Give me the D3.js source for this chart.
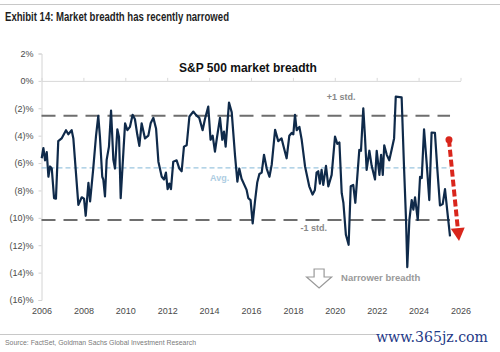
<!DOCTYPE html>
<html>
<head>
<meta charset="utf-8">
<script src="https://cdn.jsdelivr.net/npm/d3@7"></script>
<style>
  body { margin: 0; background: #fff; }
  svg { display: block; }
</style>
</head>
<body>
<div id="chart"></div>
<script>
// data (decimal year, breadth %)
var years = [2006.01, 2006.09, 2006.17, 2006.25, 2006.33, 2006.41, 2006.49, 2006.60, 2006.69, 2006.80,
  2006.96, 2007.17, 2007.28, 2007.44, 2007.52, 2007.76, 2007.92, 2008.03, 2008.11, 2008.24,
  2008.32, 2008.47, 2008.60, 2008.71, 2008.79, 2008.90, 2008.95, 2009.03, 2009.11, 2009.22,
  2009.32, 2009.43, 2009.51, 2009.62, 2009.70, 2009.78, 2009.91, 2009.99, 2010.10, 2010.22,
  2010.35, 2010.46, 2010.57, 2010.67, 2010.78, 2010.94, 2011.10, 2011.21, 2011.34, 2011.47,
  2011.58, 2011.74, 2011.85, 2011.94, 2012.02, 2012.10, 2012.18, 2012.29, 2012.45, 2012.58,
  2012.69, 2012.80, 2012.93, 2013.06, 2013.25, 2013.37, 2013.53, 2013.69, 2013.80, 2013.96,
  2014.07, 2014.17, 2014.28, 2014.36, 2014.52, 2014.63, 2014.71, 2014.79, 2014.95, 2015.08,
  2015.24, 2015.35, 2015.44, 2015.55, 2015.79, 2015.87, 2015.98, 2016.08, 2016.19, 2016.30,
  2016.40, 2016.51, 2016.62, 2016.75, 2016.88, 2016.99, 2017.15, 2017.30, 2017.46, 2017.54,
  2017.70, 2017.83, 2017.94, 2018.02, 2018.10, 2018.18, 2018.31, 2018.42, 2018.58, 2018.78,
  2018.94, 2019.05, 2019.13, 2019.21, 2019.29, 2019.37, 2019.45, 2019.58, 2019.69, 2019.85,
  2020.01, 2020.12, 2020.22, 2020.33, 2020.41, 2020.53, 2020.66, 2020.76, 2020.88, 2020.98,
  2021.08, 2021.17, 2021.25, 2021.36, 2021.44, 2021.52, 2021.65, 2021.76, 2021.92, 2022.00,
  2022.13, 2022.21, 2022.29, 2022.36, 2022.48, 2022.60, 2022.71, 2022.83, 2022.91, 2023.19,
  2023.30, 2023.40, 2023.46, 2023.56, 2023.67, 2023.75, 2023.83, 2023.96, 2024.07, 2024.15,
  2024.26, 2024.39, 2024.51, 2024.62, 2024.78, 2024.89, 2025.02, 2025.15, 2025.26, 2025.39,
  2025.50];
var breadth = [-5.65, -4.9, -5.8, -5.2, -7.0, -6.25, -6.4, -8.56, -8.6, -4.4,
  -4.2, -3.6, -3.9, -3.6, -4.2, -9.05, -8.5, -8.6, -9.85, -7.45,
  -8.8, -6.4, -4.06, -2.55, -4.1, -7.0, -7.2, -8.44, -5.77, -4.8,
  -2.17, -5.77, -6.4, -3.53, -4.1, -8.56, -5.16, -3.1, -3.6, -3.36,
  -2.48, -2.8, -3.9, -4.74, -3.1, -4.2, -4.0, -3.1, -2.7, -3.5,
  -5.9, -7.0, -7.2, -6.7, -7.9, -7.5, -7.9, -5.9, -5.8, -6.4,
  -6.6, -4.8, -4.7, -2.6, -2.24, -2.48, -2.7, -3.6, -2.8, -1.88,
  -4.3, -4.0, -5.16, -4.3, -2.7, -4.3, -3.7, -4.8, -1.58, -2.3,
  -5.5, -7.35, -6.4, -7.15, -7.96, -8.56, -8.7, -10.4, -8.8, -7.4,
  -6.8, -6.7, -5.4, -6.4, -7.0, -6.1, -3.58, -4.4, -4.2, -4.7,
  -5.65, -4.0, -3.8, -3.9, -2.48, -3.6, -3.36, -4.3, -6.25, -7.7,
  -8.3, -7.96, -6.7, -6.6, -7.5, -6.5, -7.6, -6.2, -7.7, -6.86,
  -4.06, -4.6, -4.5, -8.2, -8.9, -11.24, -11.97, -7.7, -7.6, -8.9,
  -6.86, -5.04, -5.1, -2.0, -4.06, -6.5, -5.1, -6.2, -7.2, -5.1,
  -6.86, -5.4, -6.86, -4.7, -5.4, -5.8, -5.04, -4.2, -1.15, -1.2,
  -6.1, -10.15, -13.6, -10.15, -8.7, -9.4, -8.5, -10.15, -7.0, -7.1,
  -3.53, -6.1, -8.7, -3.77, -3.8, -6.35, -9.1, -9.0, -7.9, -9.8,
  -11.36];

var yTicks = [2, 0, -2, -4, -6, -8, -10, -12, -14, -16];
var xTicks = [2006, 2008, 2010, 2012, 2014, 2016, 2018, 2020, 2022, 2024, 2026];
var bands = [
  { name: "+1 std.", value: -2.55 },
  { name: "-1 std.", value: -10.15 }
];
var avgValue = -6.35;
var arrowFrom = [2025.45, -4.3];
var arrowTo = [2025.93, -11.7];

var width = 500, height = 352;

var svg = d3.select("#chart")
  .append("svg")
  .attr("width", width)
  .attr("height", height)
  .style("font-family", "Arial, 'Liberation Sans', sans-serif");

var x = d3.scaleLinear().domain([2006, 2026]).range([41.5, 460.5]);
var y = d3.scaleLinear().domain([-16, 2]).range([300, 53.5]);

var pctFmt = function (d) {
  return d < 0 ? "(" + Math.abs(d) + ")%" : d + "%";
};

// header / footer rules
svg.append("line").attr("x1", 0).attr("x2", width).attr("y1", 4.5).attr("y2", 4.5)
  .attr("stroke", "#c8c8c8").attr("stroke-width", 1);
svg.append("line").attr("x1", 0).attr("x2", 378).attr("y1", 334.5).attr("y2", 334.5)
  .attr("stroke", "#c8c8c8").attr("stroke-width", 1);

svg.append("text")
  .attr("x", 5).attr("y", 21)
  .attr("font-family", "'Liberation Sans Narrow', 'Arial Narrow', Arial, sans-serif")
  .attr("font-weight", "bold")
  .attr("font-size", 12)
  .attr("fill", "#1e1e1e")
  .attr("textLength", 224).attr("lengthAdjust", "spacingAndGlyphs")
  .text("Exhibit 14: Market breadth has recently narrowed");

svg.append("text")
  .attr("x", 248).attr("y", 72)
  .attr("text-anchor", "middle")
  .attr("font-weight", "bold")
  .attr("font-size", 12)
  .attr("fill", "#111")
  .text("S&P 500 market breadth");

// y axis
var yAxis = svg.append("g")
  .attr("transform", "translate(" + x(2006) + ",0)")
  .call(d3.axisLeft(y).tickValues(yTicks).tickSize(3).tickPadding(5).tickFormat(pctFmt));
yAxis.select(".domain").attr("stroke", "#d4d4d4");
yAxis.selectAll(".tick line").attr("stroke", "#d4d4d4");
yAxis.selectAll("text").attr("font-size", 9).attr("fill", "#4a4a4a");

// x axis line sits on 0%
var xAxis = svg.append("g")
  .attr("transform", "translate(0," + y(0) + ")")
  .call(d3.axisTop(x).tickValues(xTicks).tickSize(3).tickSizeOuter(0).tickFormat(""));
xAxis.select(".domain").attr("stroke", "#d8d8d8");
xAxis.selectAll(".tick line").attr("stroke", "#d8d8d8");

// x labels along the bottom
var xLabels = svg.append("g")
  .attr("transform", "translate(0," + 300 + ")")
  .call(d3.axisBottom(x).tickValues(xTicks).tickSize(0).tickPadding(8).tickFormat(d3.format("d")));
xLabels.select(".domain").remove();
xLabels.selectAll("text").attr("font-size", 9).attr("fill", "#4a4a4a");

// std bands
svg.selectAll(".band")
  .data(bands)
  .enter()
  .append("line")
  .attr("class", "band")
  .attr("x1", x(2006)).attr("x2", x(2025.5))
  .attr("y1", function (d) { return y(d.value); })
  .attr("y2", function (d) { return y(d.value); })
  .attr("stroke", "#6e6e6e")
  .attr("stroke-width", 2)
  .attr("stroke-dasharray", "14,8");

svg.append("line")
  .attr("x1", x(2006)).attr("x2", x(2025.5))
  .attr("y1", y(avgValue)).attr("y2", y(avgValue))
  .attr("stroke", "#9cc6e0")
  .attr("stroke-width", 1.2)
  .attr("stroke-dasharray", "5,3");

svg.append("text")
  .attr("x", x(2020.3)).attr("y", y(bands[0].value) - 16)
  .attr("text-anchor", "middle").attr("font-size", 9).attr("font-weight", "bold")
  .attr("fill", "#888").text(bands[0].name);
svg.append("text")
  .attr("x", x(2019.0)).attr("y", y(bands[1].value) + 11)
  .attr("text-anchor", "middle").attr("font-size", 9).attr("font-weight", "bold")
  .attr("fill", "#888").text(bands[1].name);
svg.append("text")
  .attr("x", x(2014.5)).attr("y", y(avgValue) + 13)
  .attr("text-anchor", "middle").attr("font-size", 9).attr("font-weight", "bold")
  .attr("fill", "#aecde2").text("Avg.");

// breadth series
var line = d3.line()
  .x(function (d, i) { return x(years[i]); })
  .y(function (d) { return y(d); });

svg.append("path")
  .datum(breadth)
  .attr("d", line)
  .attr("fill", "none")
  .attr("stroke", "#0f2a4a")
  .attr("stroke-width", 2.2)
  .attr("stroke-linejoin", "round");

// red dashed arrow
var ax1 = x(arrowFrom[0]), ay1 = y(arrowFrom[1]);
var ax2 = x(arrowTo[0]), ay2 = y(arrowTo[1]);
var ang = Math.atan2(ay2 - ay1, ax2 - ax1);
var headLen = 13, headW = 7;
var bx = ax2 - headLen * Math.cos(ang), by = ay2 - headLen * Math.sin(ang);
svg.append("line")
  .attr("x1", ax1).attr("y1", ay1).attr("x2", bx).attr("y2", by)
  .attr("stroke", "#d9261c").attr("stroke-width", 4)
  .attr("stroke-dasharray", "7,3");
svg.append("circle")
  .attr("cx", ax1).attr("cy", ay1).attr("r", 3.5)
  .attr("fill", "#d9261c");
svg.append("path")
  .attr("d", "M" + ax2 + "," + ay2 +
    "L" + (bx + headW * Math.sin(ang)) + "," + (by - headW * Math.cos(ang)) +
    "L" + (bx - headW * Math.sin(ang)) + "," + (by + headW * Math.cos(ang)) + "Z")
  .attr("fill", "#d9261c");

// narrower breadth note
var nx = x(2019.25), ny = 269;
svg.append("path")
  .attr("d", "M" + (nx - 5) + "," + ny + "h10v8h7.5l-12.5,11l-12.5,-11h7.5z")
  .attr("fill", "#fff").attr("stroke", "#999").attr("stroke-width", 1.2);
svg.append("text")
  .attr("x", nx + 22).attr("y", ny + 12)
  .attr("font-size", 9.5).attr("font-weight", "bold")
  .attr("fill", "#9a9a9a").text("Narrower breadth");

// footer
svg.append("text")
  .attr("x", 5).attr("y", 345)
  .attr("font-family", "'Liberation Sans Narrow', 'Arial Narrow', Arial, sans-serif")
  .attr("font-size", 8).attr("fill", "#7a7a7a")
  .attr("textLength", 191).attr("lengthAdjust", "spacingAndGlyphs")
  .text("Source: FactSet, Goldman Sachs Global Investment Research");

svg.append("text")
  .attr("x", 376).attr("y", 342)
  .attr("font-family", "'DejaVu Serif', 'Liberation Serif', serif")
  .attr("font-size", 14).attr("fill", "#1f3a86")
  .attr("textLength", 112).attr("lengthAdjust", "spacingAndGlyphs")
  .text("www.365jz.com");
</script>
</body>
</html>
